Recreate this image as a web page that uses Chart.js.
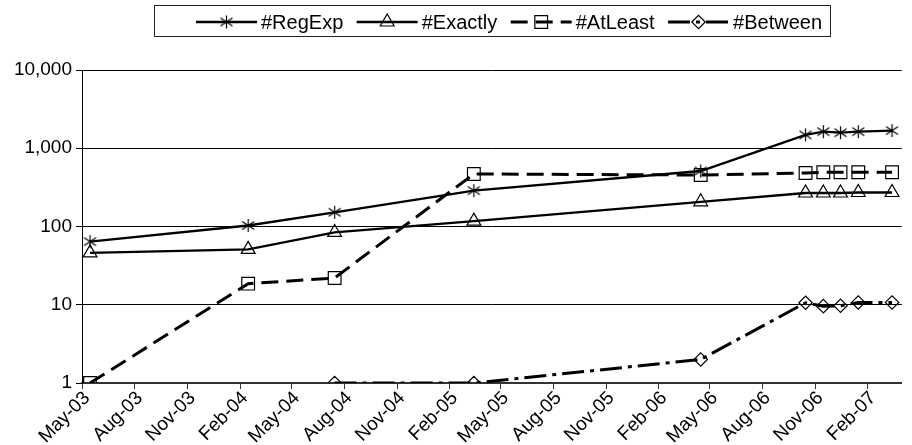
<!DOCTYPE html>
<html><head><meta charset="utf-8">
<script src="https://cdn.jsdelivr.net/npm/chart.js@4/dist/chart.umd.min.js"></script>
<style>html,body{margin:0;padding:0;background:#fff;overflow:hidden}#wrap{width:912px;height:445px;position:relative}</style>
</head><body><div id="wrap"><canvas id="c" width="912" height="445"></canvas></div>
<script>
// ---- data ----
const categories = ['2003-05-15','2004-02-15','2004-07-15','2005-03-15','2006-04-15','2006-10-15','2006-11-15','2006-12-15','2007-01-15','2007-03-15'];
const regExp  = [64, 103, 152, 287, 512, 1480, 1630, 1580, 1630, 1680];
const exactly = [46, 51, 84, 117, 207, 268, 268, 268, 272, 272];
const atLeast = [1, 18.6, 22, 469, 455, 483, 493, 493, 493, 493];
const between = [null, null, 1, 1, 2, 10.6, 9.6, 9.7, 10.7, 10.7];
const seriesNames = ['#RegExp', '#Exactly', '#AtLeast', '#Between'];
const yTickValues = [1, 10, 100, 1000, 10000];
const xTickMonths = ['2003-05','2003-08','2003-11','2004-02','2004-05','2004-08','2004-11','2005-02','2005-05','2005-08','2005-11','2006-02','2006-05','2006-08','2006-11','2007-02'];
const xRange = ['2003-05-01', '2007-04-01'];

// ---- helpers ----
const DAY = 86400000;
const MONTHS = ['Jan','Feb','Mar','Apr','May','Jun','Jul','Aug','Sep','Oct','Nov','Dec'];
const toDay = s => { const p = s.split('-').map(Number); return Date.UTC(p[0], p[1]-1, p[2]||1) / DAY; };
const xTickValues = xTickMonths.map(toDay);
const xTickLabels = xTickMonths.map(s => { const p = s.split('-'); return MONTHS[+p[1]-1] + '-' + p[0].slice(2); });
const pts = vals => categories.map((c, i) => ({ x: toDay(c), y: vals[i] }));

function makeStar() {
  const c = document.createElement('canvas'); c.width = 15; c.height = 15;
  const g = c.getContext('2d'); g.strokeStyle = '#000'; g.lineWidth = 1.2;
  g.beginPath();
  g.moveTo(7.5, 1); g.lineTo(7.5, 14);
  g.moveTo(1.5, 3.5); g.lineTo(13.5, 11.5);
  g.moveTo(1.5, 11.5); g.lineTo(13.5, 3.5);
  g.stroke();
  return c;
}
const star = makeStar();
const FONT = '"Liberation Sans", Arial, sans-serif';
const clear = 'rgba(0,0,0,0)';

const legendPlugin = {
  id: 'boxLegend',
  afterDraw(chart) {
    const ctx = chart.ctx;
    ctx.save();
    ctx.strokeStyle = '#222'; ctx.lineWidth = 1; ctx.setLineDash([]);
    ctx.strokeRect(154.5, 5.5, 676, 31);
    ctx.font = '20px ' + FONT;
    ctx.textBaseline = 'middle'; ctx.textAlign = 'left'; ctx.fillStyle = '#000';
    const sample = 61, gap = 4, startX = 196, endX = 822, cy = 22;
    const widths = chart.data.datasets.map(d => ctx.measureText(d.label).width);
    const total = widths.reduce((a, b) => a + b, 0) + 4 * (sample + gap);
    const spacing = (endX - startX - total) / 3;
    let x = startX;
    chart.data.datasets.forEach((d, i) => {
      ctx.strokeStyle = '#000';
      ctx.lineWidth = d.borderWidth;
      ctx.setLineDash(d.borderDash || []);
      ctx.beginPath(); ctx.moveTo(x, cy); ctx.lineTo(x + sample, cy); ctx.stroke();
      ctx.setLineDash([]);
      ctx.lineWidth = d.pointBorderWidth;
      ctx.fillStyle = clear;
      Chart.helpers.drawPoint(ctx, { pointStyle: d.pointStyle, radius: d.pointRadius, rotation: 0, borderWidth: d.pointBorderWidth }, x + sample / 2, cy);
      ctx.fillStyle = '#000';
      ctx.fillText(d.label, x + sample + gap, cy + 1);
      x += sample + gap + widths[i] + spacing;
    });
    ctx.restore();
  }
};

const common = { borderColor: '#000', pointBorderColor: '#000', pointBackgroundColor: clear, pointBorderWidth: 1.2, tension: 0, fill: false };

new Chart(document.getElementById('c'), {
  type: 'line',
  data: {
    datasets: [
      Object.assign({ label: seriesNames[0], data: pts(regExp), borderWidth: 2.3, pointStyle: star, pointRadius: 7 }, common),
      Object.assign({ label: seriesNames[1], data: pts(exactly), borderWidth: 2.3, pointStyle: 'triangle', pointRadius: 8 }, common),
      Object.assign({ label: seriesNames[2], data: pts(atLeast), borderWidth: 3, borderDash: [17, 8], pointStyle: 'rect', pointRadius: 9 }, common),
      Object.assign({ label: seriesNames[3], data: pts(between), borderWidth: 3, borderDash: [22, 6, 4, 6], pointStyle: 'rectRot', pointRadius: 6.7 }, common)
    ]
  },
  options: {
    responsive: false, animation: false, devicePixelRatio: 1,
    layout: { padding: { top: 70, left: 0, right: 0, bottom: 0 } },
    plugins: { legend: { display: false }, tooltip: { enabled: false } },
    scales: {
      x: {
        type: 'linear', min: toDay(xRange[0]), max: toDay(xRange[1]),
        afterBuildTicks: s => { s.ticks = xTickValues.map(v => ({ value: v })); },
        afterFit: s => { s.height = 62; },
        grid: { drawOnChartArea: false, drawTicks: true, tickLength: 6, color: '#333', lineWidth: 1 },
        border: { display: true, color: '#333', width: 2 },
        ticks: {
          autoSkip: false, minRotation: 45, maxRotation: 45, padding: -2, labelOffset: 5, color: '#000',
          font: { family: FONT, size: 19 },
          callback: (v, i) => xTickLabels[i]
        }
      },
      y: {
        type: 'logarithmic', min: 1, max: 10000,
        afterBuildTicks: s => { s.ticks = yTickValues.map(v => ({ value: v })); },
        afterFit: s => { s.width = 82; },
        grid: { color: '#000', lineWidth: 1, tickLength: 6, drawTicks: true },
        border: { display: true, color: '#000', width: 1 },
        ticks: {
          padding: 4, color: '#000', font: { family: FONT, size: 19 },
          callback: v => Number(v).toLocaleString('en-US')
        }
      }
    }
  },
  plugins: [legendPlugin]
});
</script></body></html>
